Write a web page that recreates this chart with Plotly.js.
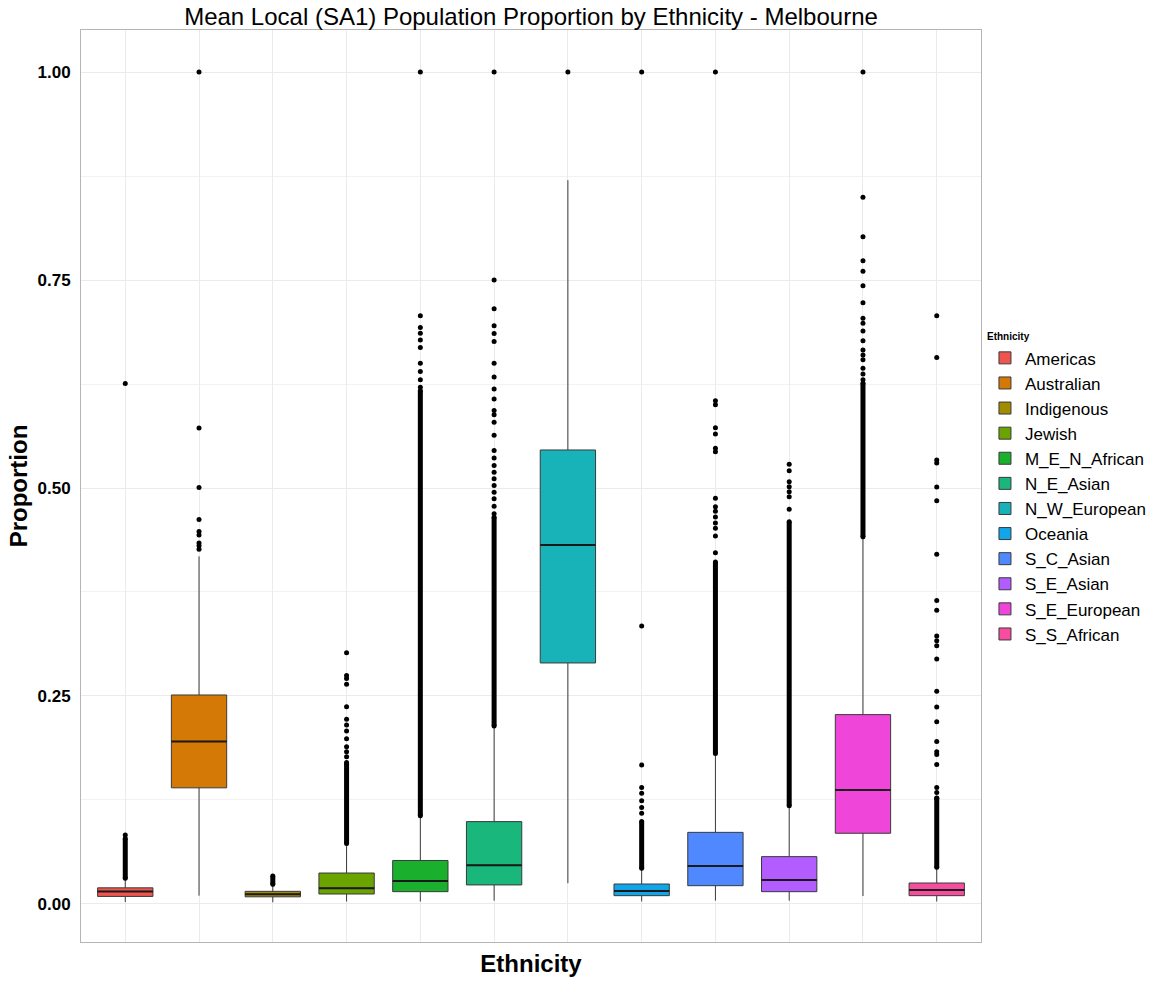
<!DOCTYPE html>
<html>
<head>
<meta charset="utf-8">
<script src="https://cdn.plot.ly/plotly-3.0.1.min.js"></script>
<style>html,body{margin:0;padding:0;background:#fff;}</style>
</head>
<body>
<div id="chart" style="width:1175px;height:983px;"></div>
<script>
// ---- data ----
const categories = ['Americas','Australian','Indigenous','Jewish','M_E_N_African','N_E_Asian','N_W_European','Oceania','S_C_Asian','S_E_Asian','S_E_European','S_S_African'];
const q1Values      = [0.0091, 0.1396, 0.0086, 0.0120, 0.0148, 0.0229, 0.2897, 0.0100, 0.0220, 0.0148, 0.0850, 0.0100];
const medianValues  = [0.0151, 0.1954, 0.0117, 0.0190, 0.0276, 0.0466, 0.4315, 0.0156, 0.0457, 0.0288, 0.1370, 0.0167];
const q3Values      = [0.0194, 0.2512, 0.0152, 0.0372, 0.0523, 0.0990, 0.5457, 0.0240, 0.0861, 0.0569, 0.2276, 0.0252];
const lowerWhisker  = [0.0023, 0.0100, 0.0020, 0.0030, 0.0030, 0.0040, 0.0250, 0.0030, 0.0040, 0.0040, 0.0096, 0.0030];
const upperWhisker  = [0.0310, 0.4178, 0.0228, 0.0727, 0.1060, 0.2140, 0.8700, 0.0429, 0.1810, 0.1180, 0.4415, 0.0442];
// dense runs of outliers (continuous columns of points): low and high ends, null = none
const denseLow  = [0.0310, null, 0.0237, 0.0727, 0.1060, 0.2140, null, 0.0429, 0.1810, 0.1180, 0.4415, 0.0442];
const denseHigh = [0.0786, null, 0.0335, 0.1700, 0.6170, 0.4647, null, 0.0990, 0.4110, 0.4595, 0.6260, 0.1270];
// individual outliers
const outAmericas    = [0.083, 0.6255];
const outAustralian  = [0.4263, 0.4307, 0.434, 0.4435, 0.4478, 0.462, 0.5006, 0.5722, 1.0];
const outIndigenous  = [];
const outJewish      = [0.177, 0.183, 0.189, 0.1987, 0.208, 0.215, 0.222, 0.237, 0.264, 0.271, 0.2746, 0.302];
const outMENAfrican  = [0.621, 0.630, 0.640, 0.650, 0.669, 0.678, 0.686, 0.693, 0.707, 1.0];
const outNEAsian     = [0.469, 0.478, 0.487, 0.495, 0.503, 0.511, 0.519, 0.527, 0.536, 0.545, 0.5635, 0.579, 0.588, 0.593, 0.607, 0.619, 0.6334, 0.65, 0.676, 0.6856, 0.695, 0.7155, 0.75, 1.0];
const outNWEuropean  = [1.0];
const outOceania     = [0.109, 0.116, 0.124, 0.133, 0.140, 0.167, 0.334, 1.0];
const outSCAsian     = [0.4223, 0.4423, 0.4516, 0.458, 0.465, 0.472, 0.4776, 0.4876, 0.5436, 0.5477, 0.565, 0.5725, 0.600, 0.605, 1.0];
const outSEAsian     = [0.4744, 0.4896, 0.4956, 0.5016, 0.5076, 0.5208, 0.5284];
const outSEEuropean  = [0.630, 0.637, 0.644, 0.654, 0.660, 0.666, 0.677, 0.6887, 0.698, 0.704, 0.7228, 0.743, 0.7604, 0.7732, 0.802, 0.8494, 1.0];
const outSSAfrican   = [0.1274, 0.134, 0.140, 0.1678, 0.1797, 0.1829, 0.1953, 0.2191, 0.2367, 0.2557, 0.2946, 0.3103, 0.3164, 0.3221, 0.353, 0.3649, 0.4204, 0.4846, 0.5012, 0.530, 0.5337, 0.657, 0.707];
const yTickValues = [0, 0.25, 0.5, 0.75, 1.0];
const yTickLabels = ['0.00', '0.25', '0.50', '0.75', '1.00'];

// ---- styles ----
const colors = ['#F0544F','#D47806','#A38B00','#6BA300','#1AB02E','#19B77C','#18B2B9','#12A5E8','#4F88FF','#B35CFF','#EF46D9','#F64D9E'];
const FONT = 'Liberation Sans, Arial, Helvetica, sans-serif';
const BOX_W = 0.75;

const outlierLists = [outAmericas, outAustralian, outIndigenous, outJewish, outMENAfrican, outNEAsian, outNWEuropean, outOceania, outSCAsian, outSEAsian, outSEEuropean, outSSAfrican];

const traces = [];
categories.forEach((c, i) => {
  traces.push({
    type: 'box', name: c, x: [c],
    q1: [q1Values[i]], median: [medianValues[i]], q3: [q3Values[i]],
    lowerfence: [lowerWhisker[i]], upperfence: [upperWhisker[i]],
    fillcolor: colors[i], line: {color: '#3a3a3a', width: 1},
    whiskerwidth: 0, width: BOX_W, boxpoints: false, hoverinfo: 'skip'
  });
});

// dense outlier columns
const dx = [], dy = [];
categories.forEach((c, i) => {
  if (denseLow[i] !== null) { dx.push(c, c, null); dy.push(denseLow[i], denseHigh[i], null); }
});
traces.push({type: 'scatter', mode: 'lines+markers', x: dx, y: dy, showlegend: false,
  line: {color: '#000', width: 5}, marker: {color: '#000', size: 5}, hoverinfo: 'skip'});

// individual outliers
const ox = [], oy = [];
categories.forEach((c, i) => { outlierLists[i].forEach(v => { ox.push(c); oy.push(v); }); });
traces.push({type: 'scatter', mode: 'markers', x: ox, y: oy, showlegend: false,
  marker: {color: '#000', size: 5}, hoverinfo: 'skip'});

// thick median lines (like ggplot)
const shapes = categories.map((c, i) => ({
  type: 'line', xref: 'x', yref: 'y',
  x0: i - BOX_W / 2, x1: i + BOX_W / 2, y0: medianValues[i], y1: medianValues[i],
  line: {color: '#1a1a1a', width: 2}
}));

const layout = {
  width: 1175, height: 983,
  margin: {l: 81, r: 194, t: 30, b: 41},
  paper_bgcolor: '#fff', plot_bgcolor: '#fff',
  font: {family: FONT, color: '#000'},
  title: {text: 'Mean Local (SA1) Population Proportion by Ethnicity - Melbourne',
    font: {family: FONT, size: 24, color: '#000'}, x: 0.5, xref: 'paper', xanchor: 'center',
    y: 1 - 17 / 983, yref: 'container', yanchor: 'middle'},
  boxmode: 'overlay',
  showlegend: true,
  legend: {x: 1.0044, xanchor: 'left', y: 0.674, yanchor: 'top',
    font: {family: FONT, size: 17, color: '#000'},
    title: {text: '<b>Ethnicity</b>', font: {family: FONT, size: 10, color: '#000'}},
    bgcolor: 'rgba(0,0,0,0)', tracegroupgap: 0},
  xaxis: {type: 'category', categoryorder: 'array', categoryarray: categories,
    range: [-0.6, categories.length - 0.4], showticklabels: false, ticks: '',
    showgrid: true, gridcolor: '#ebebeb', gridwidth: 1, zeroline: false,
    showline: true, mirror: true, linecolor: '#b5b5b5', linewidth: 1,
    title: {text: '<b>Ethnicity</b>', font: {family: FONT, size: 24, color: '#000'}, standoff: 13},
    automargin: false, fixedrange: true},
  yaxis: {range: [-0.0457, 1.0505], tickvals: yTickValues, ticktext: yTickLabels,
    tickfont: {family: FONT, size: 17, color: '#000', weight: 'bold'}, ticks: '', ticklabelstandoff: 6,
    showgrid: true, gridcolor: '#ebebeb', gridwidth: 1, zeroline: false,
    minor: {dtick: 0.125, tick0: 0, showgrid: true, gridcolor: '#f2f2f2', gridwidth: 1},
    showline: true, mirror: true, linecolor: '#b5b5b5', linewidth: 1,
    title: {text: '<b>Proportion</b>', font: {family: FONT, size: 24, color: '#000'}, standoff: 3},
    automargin: false, fixedrange: true},
  shapes: shapes
};

Plotly.newPlot('chart', traces, layout, {displayModeBar: false, staticPlot: true});
</script>
</body>
</html>
